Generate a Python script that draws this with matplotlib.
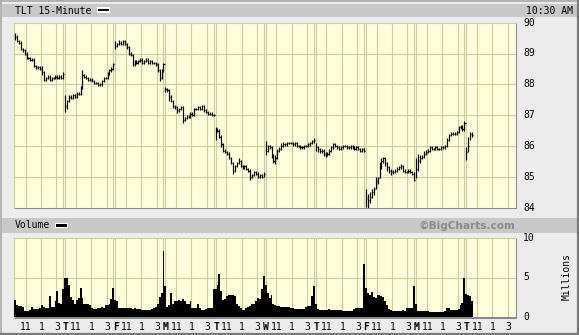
import matplotlib
matplotlib.use("Agg")
import matplotlib.pyplot as plt
from matplotlib.patches import Rectangle
from matplotlib.lines import Line2D

# ---------------- data ----------------
day_letters = ["", "T", "F", "M", "T", "W", "T", "F", "M", "T"]
hour_labels = ["11", "1", "3"]
price_ticks = [84, 85, 86, 87, 88, 89, 90]
volume_ticks = [0, 5, 10]

price_close = [
    89.55, 89.4, 89.35, 89.15, 89.1, 89.0, 88.85, 88.85, 88.8, 88.8, 88.6, 88.55, 88.55, 88.5, 88.4, 88.15, 88.2, 88.25, 88.15, 88.2, 88.2, 88.25, 88.2, 88.25, 88.2, 88.35,
    87.3, 87.45, 87.6, 87.55, 87.65, 87.6, 87.7, 87.7, 87.9, 88.3, 88.25, 88.2, 88.15, 88.15, 88.1, 88.05, 88.05, 87.98, 88.0, 88.1, 88.2, 88.2, 88.35, 88.45, 88.5, 88.65,
    89.25, 89.3, 89.35, 89.3, 89.4, 89.3, 89.2, 89.0, 88.95, 88.65, 88.75, 88.7, 88.75, 88.8, 88.7, 88.75, 88.8, 88.7, 88.75, 88.7, 88.7, 88.65, 88.45, 88.2, 88.45, 88.65,
    87.85, 87.8, 87.6, 87.45, 87.3, 87.25, 87.15, 87.2, 87.25, 86.85, 86.9, 86.95, 86.95, 87.05, 87.0, 87.2, 87.2, 87.25, 87.2, 87.3, 87.15, 87.1, 87.05, 87.05, 87.0, 87.0,
    86.55, 86.5, 86.3, 86.05, 85.85, 85.8, 85.75, 85.6, 85.45, 85.2, 85.35, 85.45, 85.5, 85.35, 85.3, 85.35, 85.25, 85.2, 85.0, 85.05, 85.15, 85.1, 85.0, 85.05, 85.0, 85.1,
    85.85, 86.0, 85.95, 85.7, 85.5, 85.6, 85.85, 85.9, 86.0, 86.05, 86.05, 86.1, 86.1, 86.1, 86.05, 86.1, 86.0, 86.0, 85.95, 85.95, 86.0, 86.0, 86.05, 86.1, 86.15, 86.2,
    85.95, 85.9, 85.85, 85.85, 85.75, 85.7, 85.75, 85.85, 85.95, 86.05, 86.0, 85.95, 85.9, 85.95, 86.0, 86.0, 85.95, 85.95, 86.0, 85.95, 85.9, 85.95, 85.9, 85.85, 85.9, 85.85,
    84.3, 84.25, 84.35, 84.5, 84.6, 84.85, 84.95, 85.3, 85.5, 85.6, 85.45, 85.3, 85.2, 85.15, 85.15, 85.2, 85.25, 85.3, 85.35, 85.2, 85.15, 85.15, 85.2, 85.15, 85.1, 84.9,
    85.25, 85.5, 85.6, 85.65, 85.75, 85.8, 85.85, 85.95, 85.9, 85.9, 85.95, 85.9, 85.9, 85.95, 85.95, 86.0, 86.2, 86.35, 86.4, 86.4, 86.4, 86.45, 86.6, 86.65, 86.55, 86.75,
    85.8, 86.0, 86.4, 86.35,
]
price_high = [
    89.65, 89.59, 89.44, 89.39, 89.19, 89.14, 89.04, 88.89, 88.89, 88.84, 88.84, 88.64, 88.59, 88.59, 88.6, 88.44, 88.24, 88.29, 88.29, 88.24, 88.24, 88.29, 88.29, 88.29, 88.29, 88.41,
    87.65, 87.49, 87.64, 87.64, 87.69, 87.69, 87.74, 87.74, 87.94, 88.45, 88.34, 88.29, 88.24, 88.19, 88.19, 88.14, 88.09, 88.09, 88.04, 88.14, 88.24, 88.24, 88.39, 88.49, 88.57, 88.7,
    89.4, 89.34, 89.45, 89.39, 89.44, 89.44, 89.34, 89.24, 89.04, 88.99, 88.79, 88.79, 88.79, 88.84, 88.84, 88.79, 88.84, 88.84, 88.79, 88.79, 88.74, 88.74, 88.69, 88.49, 88.49, 88.7,
    87.92, 87.89, 87.84, 87.64, 87.49, 87.34, 87.29, 87.24, 87.3, 87.29, 86.94, 86.99, 86.99, 87.09, 87.09, 87.24, 87.24, 87.29, 87.29, 87.34, 87.34, 87.19, 87.14, 87.09, 87.09, 87.04,
    86.62, 86.59, 86.54, 86.34, 86.09, 85.89, 85.84, 85.79, 85.64, 85.49, 85.39, 85.49, 85.6, 85.54, 85.39, 85.39, 85.39, 85.29, 85.24, 85.09, 85.19, 85.19, 85.14, 85.09, 85.09, 85.14,
    86.15, 86.04, 86.04, 85.99, 85.74, 85.7, 85.89, 85.97, 86.1, 86.14, 86.09, 86.14, 86.14, 86.14, 86.14, 86.14, 86.14, 86.04, 86.04, 85.99, 86.04, 86.04, 86.09, 86.14, 86.19, 86.26,
    86.1, 85.99, 85.94, 85.89, 85.89, 85.79, 85.79, 85.89, 85.99, 86.1, 86.09, 86.04, 85.99, 85.99, 86.04, 86.04, 86.04, 85.99, 86.04, 86.04, 85.99, 85.99, 85.99, 85.94, 85.94, 85.94,
    84.6, 84.45, 84.5, 84.6, 84.68, 85.0, 85.0, 85.49, 85.6, 85.65, 85.64, 85.49, 85.34, 85.24, 85.22, 85.26, 85.3, 85.36, 85.4, 85.39, 85.24, 85.19, 85.24, 85.24, 85.19, 85.14,
    85.6, 85.75, 85.7, 85.72, 85.82, 85.87, 85.9, 86.0, 85.99, 85.94, 85.99, 85.99, 85.94, 85.99, 85.99, 86.04, 86.26, 86.4, 86.46, 86.44, 86.44, 86.5, 86.64, 86.69, 86.69, 86.82,
    85.95, 86.3, 86.45, 86.45,
]
price_low = [
    89.45, 89.36, 89.31, 89.11, 89.06, 88.96, 88.81, 88.81, 88.76, 88.76, 88.56, 88.51, 88.51, 88.46, 88.3, 88.11, 88.11, 88.16, 88.11, 88.11, 88.16, 88.16, 88.16, 88.16, 88.16, 88.16,
    87.1, 87.2, 87.41, 87.51, 87.51, 87.56, 87.56, 87.66, 87.66, 87.86, 88.21, 88.16, 88.11, 88.11, 88.06, 88.01, 88.01, 87.94, 87.94, 87.96, 88.06, 88.16, 88.16, 88.31, 88.41, 88.46,
    89.15, 89.21, 89.26, 89.26, 89.26, 89.26, 89.16, 88.96, 88.91, 88.61, 88.61, 88.66, 88.66, 88.71, 88.66, 88.66, 88.71, 88.66, 88.66, 88.66, 88.66, 88.61, 88.41, 88.1, 88.16, 88.41,
    87.76, 87.76, 87.45, 87.41, 87.23, 87.21, 87.07, 87.11, 87.16, 86.74, 86.81, 86.86, 86.91, 86.91, 86.96, 86.96, 87.16, 87.16, 87.16, 87.16, 87.11, 87.06, 87.01, 87.01, 86.96, 86.96,
    86.19, 86.46, 86.26, 85.97, 85.81, 85.76, 85.71, 85.56, 85.41, 85.1, 85.16, 85.31, 85.41, 85.31, 85.26, 85.26, 85.21, 85.16, 84.9, 84.96, 85.01, 85.06, 84.96, 84.96, 84.96, 84.99,
    85.7, 85.81, 85.91, 85.6, 85.45, 85.4, 85.56, 85.81, 85.86, 85.96, 86.01, 86.01, 86.06, 86.06, 86.01, 86.01, 85.96, 85.96, 85.91, 85.91, 85.91, 85.96, 85.96, 86.01, 86.06, 86.11,
    85.85, 85.81, 85.78, 85.78, 85.68, 85.65, 85.66, 85.71, 85.81, 85.91, 85.96, 85.91, 85.86, 85.86, 85.91, 85.96, 85.91, 85.91, 85.91, 85.91, 85.86, 85.86, 85.86, 85.81, 85.81, 85.81,
    84.03, 84.0, 84.15, 84.3, 84.4, 84.6, 84.75, 84.95, 85.26, 85.45, 85.35, 85.2, 85.12, 85.07, 85.1, 85.11, 85.16, 85.21, 85.26, 85.16, 85.11, 85.11, 85.11, 85.11, 85.06, 84.85,
    84.95, 85.2, 85.46, 85.56, 85.61, 85.71, 85.76, 85.81, 85.86, 85.86, 85.86, 85.86, 85.86, 85.86, 85.91, 85.91, 85.96, 86.16, 86.31, 86.34, 86.34, 86.36, 86.41, 86.56, 86.5, 86.5,
    85.55, 85.8, 86.2, 86.3,
]
volume_millions = [
    2.1, 1.5, 1.4, 1.4, 1.3, 0.8, 0.8, 0.8, 0.9, 1.3, 1.0, 1.0, 1.0, 1.1, 1.5, 1.3, 1.1, 1.1, 2.7, 1.3, 1.3, 2.0, 3.3, 1.8, 1.7, 3.5,
    5.0, 4.9, 4.0, 2.5, 2.2, 1.7, 2.2, 2.4, 3.7, 2.4, 1.7, 1.6, 1.6, 1.5, 1.2, 1.0, 1.0, 1.2, 1.2, 1.3, 1.2, 1.5, 1.5, 1.6, 2.3, 3.7,
    2.2, 2.0, 1.2, 1.2, 1.2, 1.1, 1.1, 1.1, 1.1, 1.0, 1.1, 1.0, 1.0, 1.0, 0.9, 0.9, 0.9, 0.9, 0.9, 1.0, 1.2, 1.3, 1.6, 2.5, 3.0, 8.3,
    3.9, 1.3, 1.5, 3.0, 1.7, 2.0, 2.0, 2.1, 2.0, 2.3, 2.0, 1.7, 1.7, 2.0, 1.2, 1.1, 1.1, 1.7, 1.2, 0.9, 0.9, 1.0, 1.1, 1.1, 1.2, 3.5,
    3.6, 4.1, 5.4, 3.3, 2.2, 2.3, 2.6, 2.8, 2.8, 2.8, 2.7, 1.6, 1.4, 1.2, 0.9, 0.9, 1.2, 1.3, 1.4, 1.6, 1.7, 2.0, 2.4, 2.3, 3.5, 5.2,
    4.0, 3.0, 2.4, 2.8, 1.6, 1.5, 1.4, 1.4, 1.3, 1.3, 1.3, 1.3, 1.3, 1.2, 1.2, 1.0, 1.0, 1.0, 1.0, 1.0, 1.0, 1.3, 1.4, 1.4, 2.6, 3.9,
    1.7, 1.0, 0.9, 0.9, 0.9, 0.9, 0.9, 1.0, 0.9, 0.9, 0.9, 0.9, 0.9, 0.9, 0.8, 0.8, 0.8, 0.8, 0.8, 0.8, 1.0, 1.1, 1.1, 1.1, 1.1, 6.7,
    3.7, 3.0, 2.8, 3.2, 2.5, 2.4, 2.8, 2.8, 2.6, 2.5, 2.0, 1.5, 1.0, 0.9, 0.8, 0.8, 0.8, 0.8, 0.8, 0.9, 0.8, 1.1, 1.1, 1.1, 1.2, 3.9,
    1.7, 0.8, 0.8, 0.8, 0.8, 0.8, 0.7, 0.6, 0.6, 0.6, 0.6, 0.6, 0.6, 0.6, 0.6, 0.7, 1.1, 1.1, 0.9, 0.9, 0.9, 0.9, 1.0, 1.5, 1.8, 4.9,
    2.9, 2.8, 2.6, 2.0,
]

# ---------------- layout ----------------
BARS_PER_DAY = 26
N_DAYS = len(day_letters)
N_SLOTS = BARS_PER_DAY * N_DAYS
hour_slots = [6, 14, 22]

W, H = 579, 335
fig = plt.figure(figsize=(W / 100, H / 100), dpi=100)
fig.patch.set_facecolor("#ececec")

MONO = "DejaVu Sans Mono"
PANEL = "#fefedb"
GRID = "#cccc9c"
SHADOW = "#8a8a8a"
GLW = 0.8


def fx(x):
    return x / W


def fy(y):
    return 1 - y / H


def rect(x0, y0, x1, y1, color, z=0):
    fig.patches.append(Rectangle((fx(x0), fy(y1)), fx(x1) - fx(x0), fy(y0) - fy(y1),
                                 transform=fig.transFigure, facecolor=color,
                                 edgecolor="none", zorder=z))


def hline(x0, x1, y, color, lw):
    fig.lines.append(Line2D([fx(x0), fx(x1)], [fy(y), fy(y)], transform=fig.transFigure,
                            color=color, lw=lw))


def vline(x, y0, y1, color, lw):
    fig.lines.append(Line2D([fx(x), fx(x)], [fy(y0), fy(y1)], transform=fig.transFigure,
                            color=color, lw=lw))


# outer frame
hline(0, W, 0.6, "#a8a8a8", 1.2)
vline(0.6, 0, H, "#a8a8a8", 1.2)
vline(W - 1.2, 0, H, "#7a7a7a", 1.6)
hline(0, W, H - 1.2, "#7a7a7a", 1.6)

# header bars
rect(2, 4, 577, 17, "#c8c8c8")
rect(2, 218, 577, 233, "#c8c8c8")

# legend swatches
rect(97, 7.5, 110, 12.5, "white", 1)
rect(98.2, 8.6, 108.8, 11.4, "black", 2)
rect(55, 223, 68, 228, "white", 1)
rect(56.2, 224.1, 66.8, 226.9, "black", 2)

fig.text(fx(15), fy(10.5), "TLT 15-Minute", family=MONO, fontsize=7, va="center", ha="left")
fig.text(fx(573), fy(10.5), "10:30 AM", family=MONO, fontsize=7, va="center", ha="right")
fig.text(fx(15), fy(225.5), "Volume", family=MONO, fontsize=7, va="center", ha="left")
fig.text(fx(515.5), fy(225.5), "\u00a9BigCharts.com", family="DejaVu Sans", fontsize=7.6,
         fontweight="bold", color="#8a8a8a", va="center", ha="right")

PX0, PX1 = 14, 515.5
PY0, PY1 = 22.7, 207.5
VY0, VY1 = 238, 317

# shadows
rect(PX1, PY0 + 1, PX1 + 1.6, PY1 + 1.6, SHADOW)
rect(PX0 + 1, PY1, PX1 + 1.6, PY1 + 1.6, SHADOW)
rect(PX1, VY0 + 1, PX1 + 1.6, VY1 + 1.6, SHADOW)
rect(PX0 + 1, VY1, PX1 + 1.6, VY1 + 1.6, SHADOW)

ax_p = fig.add_axes([fx(PX0), fy(PY1), (PX1 - PX0) / W, (PY1 - PY0) / H])
ax_v = fig.add_axes([fx(PX0), fy(VY1), (PX1 - PX0) / W, (VY1 - VY0) / H])

for ax in (ax_p, ax_v):
    ax.set_facecolor(PANEL)
    ax.set_xlim(0, N_SLOTS)
    ax.set_xticks([])
    ax.set_yticks([])
    for s in ax.spines.values():
        s.set_color(GRID)
        s.set_linewidth(GLW)
    for d in range(N_DAYS):
        for hs in hour_slots:
            ax.axvline(d * BARS_PER_DAY + hs, color=GRID, lw=GLW, zorder=1)
        if d > 0:
            ax.axvline(d * BARS_PER_DAY - 0.5, color=GRID, lw=GLW, zorder=1)
            ax.axvline(d * BARS_PER_DAY + 0.5, color=GRID, lw=GLW, zorder=1)

ax_p.set_ylim(price_ticks[0], price_ticks[-1])
for v in price_ticks[1:-1]:
    ax_p.axhline(v, color=GRID, lw=GLW, zorder=1)

ax_v.set_ylim(volume_ticks[0], volume_ticks[-1])
ax_v.axhline(volume_ticks[1], color=GRID, lw=GLW, zorder=1)

# price bars
xs = [i + 0.5 for i in range(len(price_close))]
ax_p.vlines(xs, price_low, price_high, colors="black", lw=0.85, zorder=3)
ax_p.hlines(price_close, xs, [x + 0.6 for x in xs], colors="black", lw=0.85, zorder=3)

# volume
ax_v.bar([i + 0.5 for i in range(len(volume_millions))], volume_millions, width=1.0,
         color="black", linewidth=0, zorder=3)

# right axis labels
for v in price_ticks:
    y = PY0 + (price_ticks[-1] - v) * (PY1 - PY0) / (price_ticks[-1] - price_ticks[0])
    fig.text(fx(523), fy(y), str(v), family=MONO, fontsize=7, va="center", ha="left")
for v in volume_ticks:
    y = VY0 + (volume_ticks[-1] - v) * (VY1 - VY0) / (volume_ticks[-1] - volume_ticks[0])
    fig.text(fx(523), fy(y), str(v), family=MONO, fontsize=7, va="center", ha="left")
fig.text(fx(567), fy(276), "Millions", family=MONO, fontsize=7, rotation=90,
         va="center", ha="center")

# x labels
slot_px = (PX1 - PX0) / N_SLOTS
for d in range(N_DAYS):
    for hs, lab in zip(hour_slots, hour_labels):
        fig.text(fx(PX0 + (d * BARS_PER_DAY + hs) * slot_px + 0.5), fy(326.5), lab,
                 family=MONO, fontsize=7, va="center", ha="center")
    if day_letters[d]:
        fig.text(fx(PX0 + d * BARS_PER_DAY * slot_px + 1.5), fy(326.5), day_letters[d],
                 family=MONO, fontsize=7, fontweight="bold", va="center", ha="center")

fig.savefig("out.png", dpi=100, facecolor=fig.get_facecolor())
